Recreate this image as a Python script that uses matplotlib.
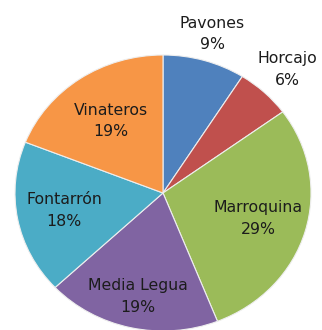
import numpy as np
import matplotlib
matplotlib.use("Agg")
import matplotlib.pyplot as plt

labels = ["Pavones", "Horcajo", "Marroquina", "Media Legua", "Fontarrón", "Vinateros"]
values = [9, 6, 29, 19, 18, 19]
colors = ["#4F81BD", "#C0504D", "#9BBB59", "#8064A2", "#4BACC6", "#F79646"]
label_dist = [1.2, 1.23, 0.67, 0.77, 0.68, 0.63]

W, H = 322, 330
fig = plt.figure(figsize=(W / 100, H / 100), dpi=100)
ax = fig.add_axes([0, 0, 1, 1])

# pie is slightly stretched horizontally in the reference
rx, ry = 148.0, 138.0           # pixels per unit
cx_px, cy_px = 163.0, 137.0     # center from bottom-left

wedges, _ = ax.pie(values, colors=colors, startangle=90, counterclock=False,
                   radius=1, frame=True,
                   wedgeprops=dict(edgecolor="#eeeeee", linewidth=0.8))
ax.set_aspect("auto")
ax.set_xlim(-cx_px / rx, (W - cx_px) / rx)
ax.set_ylim(-cy_px / ry, (H - cy_px) / ry)
ax.axis("off")

total = sum(values)
for w, lab, v, d in zip(wedges, labels, values, label_dist):
    ang = np.deg2rad((w.theta1 + w.theta2) / 2)
    x = d * np.cos(ang)
    y = d * np.sin(ang)
    ax.text(x, y, f"{lab}\n{round(100 * v / total)}%", ha="center", va="center",
            fontsize=11.3, color="#1c1c1c", linespacing=1.55,
            family="DejaVu Sans")

fig.savefig("out.png", dpi=100)
